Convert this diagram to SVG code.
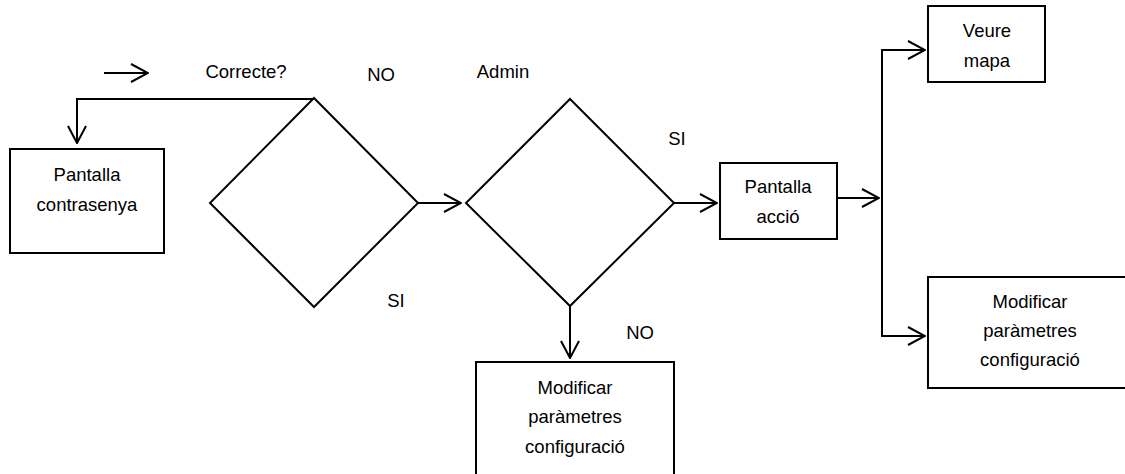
<svg xmlns="http://www.w3.org/2000/svg" width="1125" height="474" viewBox="0 0 1125 474">
<style>
.shape{fill:#fff;stroke:#000;stroke-width:2}
.conn{fill:none;stroke:#000;stroke-width:2}
text{font-family:"Liberation Sans",Arial,sans-serif;font-size:18.5px;fill:#000;text-anchor:middle}
</style>
<defs>
<marker id="arr" viewBox="0 0 20 20" refX="19" refY="10" markerWidth="20" markerHeight="20" markerUnits="userSpaceOnUse" orient="auto">
<path d="M2,1 L19,10 L2,19" fill="none" stroke="#000" stroke-width="2"/>
</marker>
</defs>
<rect width="1125" height="474" fill="#fff"/>
<g id="connectors">
<path class="conn" d="M104,73 H148" marker-end="url(#arr)"/>
<path class="conn" d="M315,99 H77 V143" marker-end="url(#arr)"/>
<path class="conn" d="M418,203 H461" marker-end="url(#arr)"/>
<path class="conn" d="M674,203 H717" marker-end="url(#arr)"/>
<path class="conn" d="M837,198 H879" marker-end="url(#arr)"/>
<path class="conn" d="M882,198 V50 H925" marker-end="url(#arr)"/>
<path class="conn" d="M882,198 V336 H925" marker-end="url(#arr)"/>
<path class="conn" d="M570,306 V358" marker-end="url(#arr)"/>
</g>
<g id="labels">
<text x="246" y="78">Correcte?</text>
<text x="381" y="81">NO</text>
<text x="503" y="78">Admin</text>
<text x="677" y="145">SI</text>
<text x="396" y="307">SI</text>
<text x="640" y="339">NO</text>
</g>
<g id="pantalla-contrasenya">
<rect class="shape" x="10" y="149" width="154" height="104"/>
<text x="87" y="181">Pantalla</text>
<text x="87" y="211">contrasenya</text>
</g>
<g id="decisio-correcte">
<polygon class="shape" points="314,98 418,203 314,307 210,203"/>
</g>
<g id="decisio-admin">
<polygon class="shape" points="570,99 674,203 570,306 466,203"/>
</g>
<g id="pantalla-accio">
<rect class="shape" x="720" y="163" width="117" height="76"/>
<text x="778" y="193">Pantalla</text>
<text x="778" y="223">acció</text>
</g>
<g id="veure-mapa">
<rect class="shape" x="928" y="6" width="117" height="76"/>
<text x="987" y="37">Veure</text>
<text x="987" y="67">mapa</text>
</g>
<g id="modificar-dreta">
<rect class="shape" x="928" y="277" width="210" height="111"/>
<text x="1030" y="308">Modificar</text>
<text x="1030" y="337">paràmetres</text>
<text x="1030" y="366">configuració</text>
</g>
<g id="modificar-baix">
<rect class="shape" x="476" y="362" width="198" height="120"/>
<text x="575" y="394">Modificar</text>
<text x="575" y="423">paràmetres</text>
<text x="575" y="453">configuració</text>
</g>
</svg>
